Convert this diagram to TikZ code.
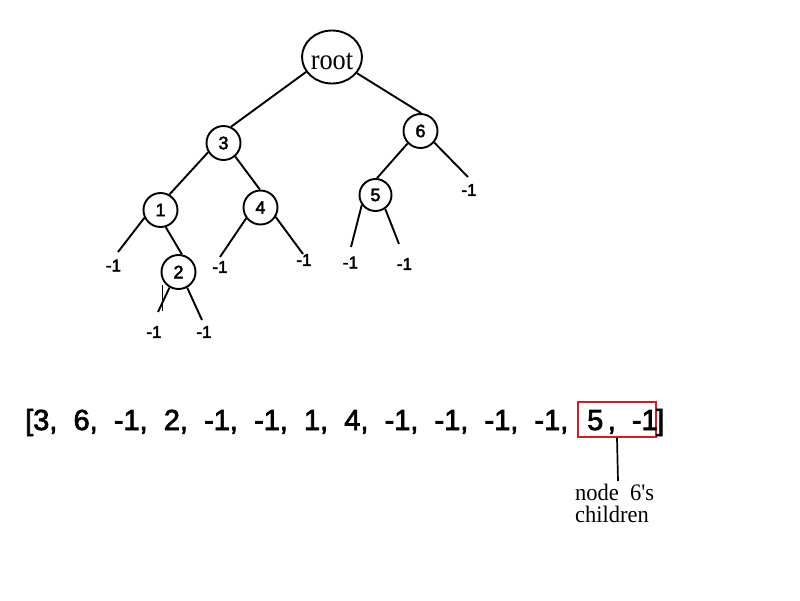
\documentclass[tikz,border=0pt]{standalone}
\usepackage{fontspec}
\usetikzlibrary{shapes.geometric}
\newfontfamily\sanf[FakeBold=2.4]{Liberation Sans}
\newfontfamily\serf{Liberation Serif}
\definecolor{boxred}{RGB}{204,32,36}
\begin{document}
\begin{tikzpicture}[x=1pt,y=-1pt,
  tnode/.style={circle, draw, line width=1.9pt, minimum size=34pt, inner sep=0pt,
    font=\sanf\fontsize{18}{18}\selectfont},
  leaf/.style={inner sep=0pt, font=\sanf\fontsize{17}{17}\selectfont},
  edge/.style={line width=1.9pt},
  arr/.style={inner sep=0pt, anchor=base west, font=\sanf\fontsize{29}{29}\selectfont},
  note/.style={inner sep=0pt, anchor=base west, font=\serf\fontsize{22.5}{22.5}\selectfont}]
\useasboundingbox[fill=white] (0,0) rectangle (800,600);

% tree nodes
\node[ellipse, draw, line width=1.9pt, minimum width=58pt, minimum height=53pt,
  inner sep=0pt, text height=24.6pt, text depth=0pt,
  font=\serf\fontsize{28}{28}\selectfont] (root) at (332,57) {\scalebox{0.94}[1.04]{root}};
\node[tnode] (n3) at (223.5,143) {3};
\node[tnode] (n6) at (420.5,131) {6};
\node[tnode] (n1) at (160.5,210) {1};
\node[tnode] (n4) at (260.5,207.5) {4};
\node[tnode, minimum size=32pt] (n5) at (375.5,195) {5};
\node[tnode] (n2) at (178.5,272) {2};

% leaf markers
\node[leaf] (l1) at (113.5,265.5) {-1};
\node[leaf] (l2a) at (154,332) {-1};
\node[leaf] (l2b) at (204,332) {-1};
\node[leaf] (l4a) at (220,267) {-1};
\node[leaf] (l4b) at (304,260) {-1};
\node[leaf] (l5a) at (350.5,262.5) {-1};
\node[leaf] (l5b) at (404.5,264) {-1};
\node[leaf] (l6) at (469,190) {-1};

% free ends of the leaf branches
\coordinate (e1l) at (118,252);
\coordinate (e2l) at (158,312);
\coordinate (e2r) at (202,320);
\coordinate (e4l) at (220,257);
\coordinate (e4r) at (303,254);
\coordinate (e5l) at (351,247);
\coordinate (e5r) at (399,244);
\coordinate (e6r) at (468,177);

% branches
\draw[edge] (root.210) -- (n3.65);
\draw[edge] (root.327) -- (n6.88);
\draw[edge] (n3.211) -- (n1.60);
\draw[edge] (n3.311) -- (n4.92);
\draw[edge] (n6.224) -- (n5.85);
\draw[edge] (n6.320) -- (e6r);
\draw[edge] (n1.206) -- (e1l);
\draw[edge] (n1.287) -- (n2.79);
\draw[edge] (n2.240) -- (e2l);
\draw[edge] (n2.299) -- (e2r);
\draw[edge] (n4.217) -- (e4l);
\draw[edge] (n4.328) -- (e4r);
\draw[edge] (n5.216) -- (e5l);
\draw[edge] (n5.305) -- (e5r);
\coordinate (s1) at (162,285);
\coordinate (s2) at (162,311);
\draw[line width=0.7pt] (s1) -- (s2);

% serialized array
\node[arr] (list) at (25,430) {[3,\ \ 6,\ \ -1,\ \ 2,\ \ -1,\ \ -1,\ \ 1,\ \ 4,\ \ -1,\ \ -1,\ \ -1,\ \ -1,};
\node[draw=boxred, line width=1.9pt, minimum width=78pt, minimum height=35pt, inner sep=0pt]
  (box) at (617,419.5) {};
\node[arr] (pair) at (587,430) {5\hspace{4.5pt},\ \ -1};
\node[arr] (close) at (656,430) {]};

% annotation
\node[note] (note1) at (575,500) {\scalebox{1}[1.05]{node\ \ 6\textquotesingle s}};
\node[note] (note2) at (575,522.5) {\scalebox{1}[1.05]{children}};
\coordinate (tip) at (618,481);
\draw[line width=1.7pt] (box.south) -- (tip);
\end{tikzpicture}
\end{document}
